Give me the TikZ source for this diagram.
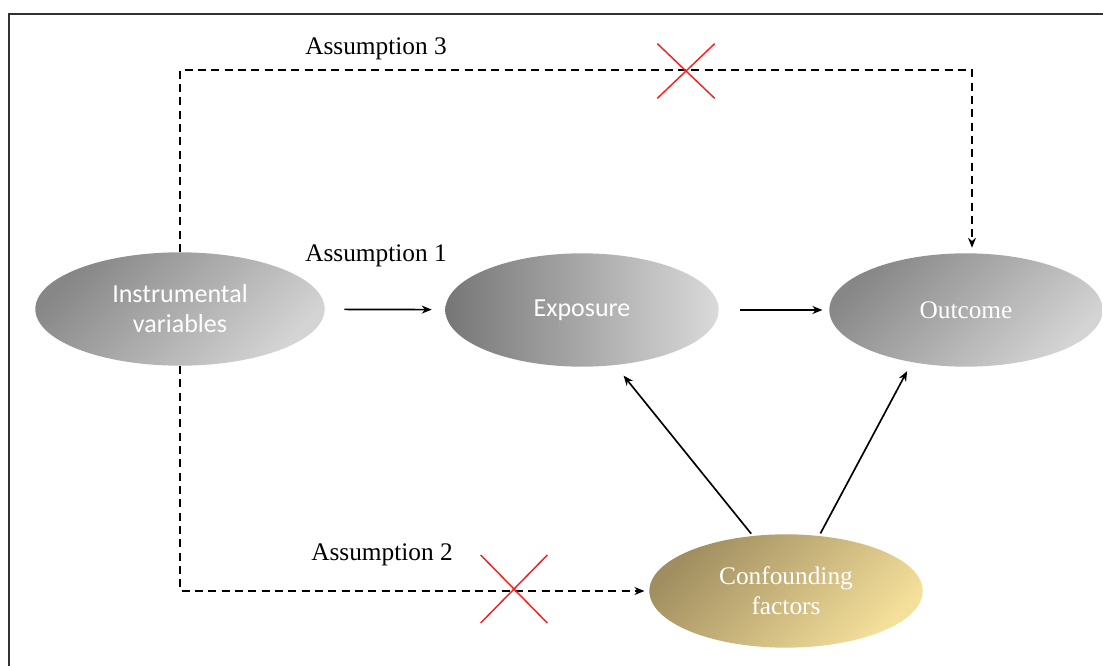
\documentclass[tikz,border=0pt]{standalone}
\usepackage{fontspec}
\setmainfont{Liberation Serif}
\newfontfamily\calibrifont{Carlito}
\usetikzlibrary{arrows.meta,shapes.geometric,shapes.misc}

\definecolor{framegray}{RGB}{50,50,50}
\definecolor{greydark}{RGB}{135,135,135}
\definecolor{greylight}{RGB}{212,212,212}
\definecolor{expdark}{RGB}{118,118,118}
\definecolor{explight}{RGB}{218,218,218}
\definecolor{golddark}{RGB}{160,142,96}
\definecolor{goldlight}{RGB}{245,224,155}
\definecolor{crossred}{RGB}{250,30,30}

\tikzset{
  oval/.style={ellipse, inner sep=0pt, minimum width=205pt, minimum height=85pt,
    text=white, align=center, font=\fontsize{19}{22.5}\selectfont},
  sansoval/.style={oval, font=\calibrifont\fontsize{19.5}{22.5}\selectfont},
  solidarrow/.style={line width=1.25pt, -{Stealth[length=7.5pt,width=6pt]}},
  dasharrow/.style={line width=1.2pt, dash pattern=on 6pt off 4pt, -{Stealth[length=7.5pt,width=6pt]}},
  redcross/.style={cross out, draw=crossred, line width=1.1pt, inner sep=0pt},
  asmlabel/.style={font=\fontsize{19}{22}\selectfont, inner sep=0pt}
}

\begin{document}
\begin{tikzpicture}[x=0.75pt,y=0.75pt,yscale=-1,xscale=1]
	\useasboundingbox (0,0) rectangle (1103,666);
	
	%Frame
	\draw [line width=1.1pt, color=framegray] (9,666) -- (9,14) -- (1103,14) ;
	
	%Shape: Ellipse
	\node [sansoval, minimum width=217pt, top color=greydark, bottom color=greylight, shading angle=45] (instr) at (180,309) {Instrumental\\variables};
	%Shape: Ellipse
	\node [sansoval, left color=expdark, right color=explight] (expo) at (582,310) {Exposure};
	%Shape: Ellipse
	\node [oval, top color=greydark, bottom color=greylight, shading angle=45] (outc) at (966,310) {Outcome};
	%Shape: Ellipse
	\node [oval, top color=golddark, bottom color=goldlight, shading angle=45] (conf) at (786,591) {Confounding\\factors};
	
	%Straight Lines
	\draw [solidarrow, shorten <=14.5pt, shorten >=10pt] (instr) -- (expo) ;
	\draw [solidarrow, shorten <=16pt, shorten >=5pt] (expo) -- (outc) ;
	\draw [solidarrow, shorten <=2pt, shorten >=10pt] (conf.121) -- (expo.-59) ;
	\draw [solidarrow, shorten <=2pt, shorten >=7.5pt] (conf.59) -- (outc.224) ;
	
	%Dashed Lines
	\coordinate (a3corner) at (180,70);
	\draw [dasharrow, shorten >=4pt] (instr.north) -- (a3corner) -| ([xshift=4.5pt]outc.north) ;
	\draw [dasharrow, shorten >=3.5pt] (instr.south) |- (conf.west) ;
	
	%Crosses
	\node [redcross, minimum width=42pt, minimum height=40pt] (cross3) at (686,71) {};
	\node [redcross, minimum width=49pt, minimum height=50pt] (cross2) at (514,589) {};
	
	% Text Node
	\node [asmlabel, anchor=base west] (asm3) at (305,55) {Assumption 3};
	% Text Node
	\node [asmlabel, anchor=base west] (asm1) at (305,262) {Assumption 1};
	% Text Node
	\node [asmlabel, anchor=base west] (asm2) at (311,560) {Assumption 2};
	
\end{tikzpicture}
\end{document}
